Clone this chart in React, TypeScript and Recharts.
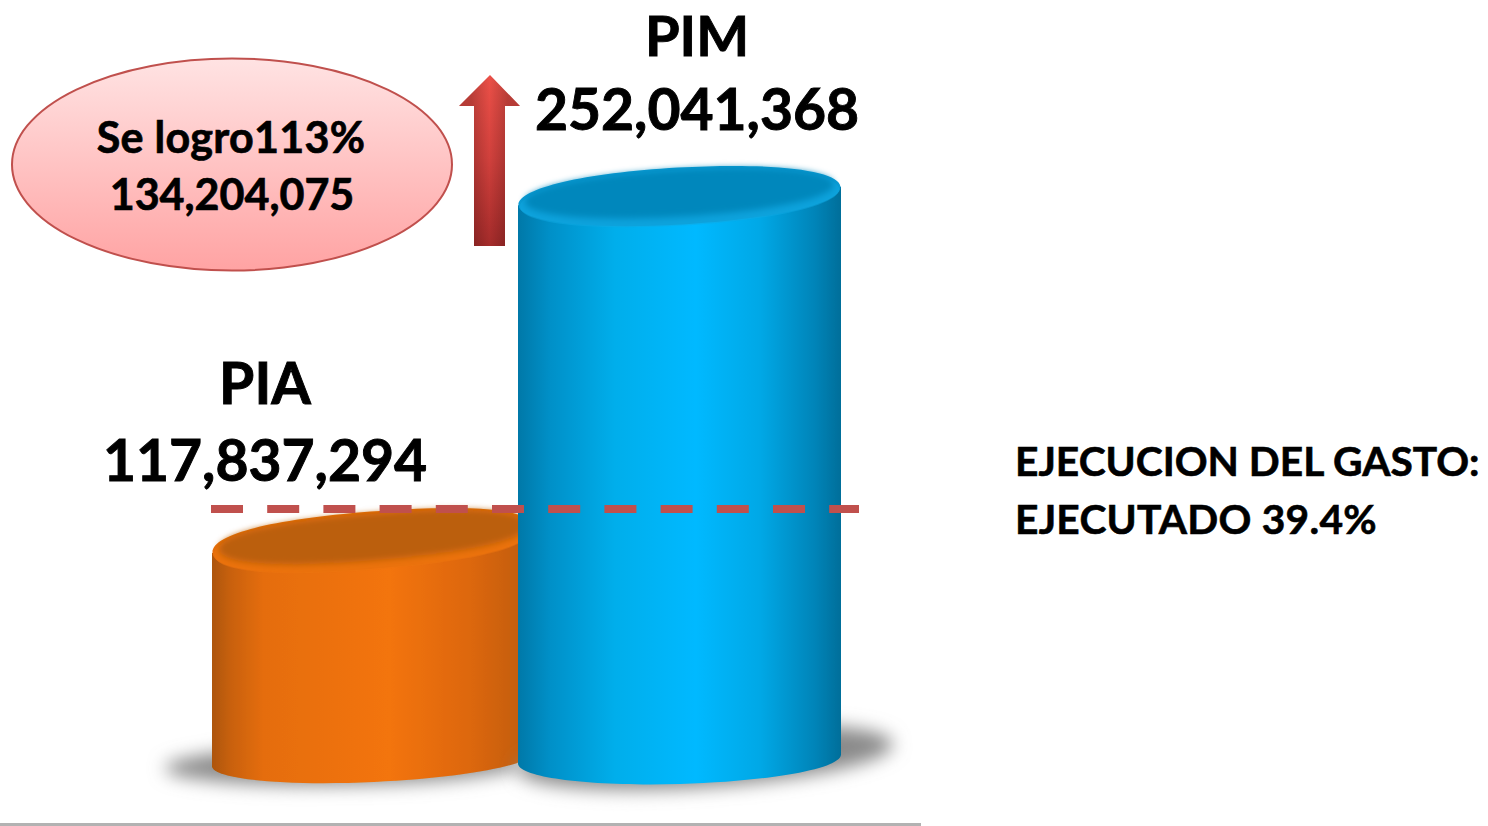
import React from "react";
import { BarChart, Bar, XAxis, YAxis, ReferenceLine, LabelList, Cell } from "recharts";

const categories = ["PIA", "PIM"];
const presupuesto = [117837294, 252041368];
const referencia = 129900000;
const logroLineas = ["Se logro113%", "134,204,075"];
const ejecucionLineas = ["EJECUCION DEL GASTO:", "EJECUTADO 39.4%"];

const data = categories.map((name, i) => ({ name, value: presupuesto[i] }));

const FONT = "Lato, Carlito, sans-serif";
const BOTTOM_KAPPA = 0.56;

type Look = {
  grad: string; cap: string; capInner: string; rim: string; kappa: number;
  inL: number; inR: number; topTilt: number; botTilt: number; ry: number; botRy: number;
  shadow: { dx: number; dy: number; rx: number; ry: number; tilt: number };
  label: { dx: number; dy: number; nameGap: number; nameSize: number };
};
const looks: Record<string, Look> = {
  PIA: {
    grad: "url(#bodyOrange)", cap: "#e86e09", capInner: "#bb5e07", rim: "#ee7610", kappa: 0.64,
    inL: 0, inR: 8, topTilt: -4.6, botTilt: -2.6, ry: 28.5, botRy: 23,
    shadow: { dx: -28, dy: 6, rx: 180, ry: 20, tilt: -1 },
    label: { dx: -104, dy: -59, nameGap: 77, nameSize: 57 },
  },
  PIM: {
    grad: "url(#bodyBlue)", cap: "#0a9bd4", capInner: "#0487bc", rim: "#0fa9e4", kappa: 0.585,
    inL: -8, inR: 1, topTilt: -3.3, botTilt: -1.6, ry: 28.5, botRy: 25,
    shadow: { dx: 26, dy: -2, rx: 188, ry: 30, tilt: -4 },
    label: { dx: 14, dy: -66, nameGap: 74, nameSize: 56 },
  },
};

// rounded ellipse outline, in its own unrotated frame
function capPath(cx: number, cy: number, rx: number, ry: number, kappa: number) {
  const kx = rx * kappa;
  const ky = ry * kappa;
  return [
    `M${cx - rx},${cy}`,
    `C${cx - rx},${cy - ky} ${cx - kx},${cy - ry} ${cx},${cy - ry}`,
    `C${cx + kx},${cy - ry} ${cx + rx},${cy - ky} ${cx + rx},${cy}`,
    `C${cx + rx},${cy + ky} ${cx + kx},${cy + ry} ${cx},${cy + ry}`,
    `C${cx - kx},${cy + ry} ${cx - rx},${cy + ky} ${cx - rx},${cy}`,
    "Z",
  ].join(" ");
}

function Cylinder(props: any) {
  const { x, y, width, height, payload } = props;
  const k = looks[payload.name];
  const left = x + k.inL;
  const right = x + width + k.inR;
  const w = right - left;
  const cx = left + w / 2;
  const base = y + height;
  const rad = (d: number) => (d * Math.PI) / 180;
  const sTop = (w / 2) * Math.tan(rad(k.topTilt));
  const sBot = (w / 2) * Math.tan(rad(k.botTilt));
  const rxTop = Math.hypot(w / 2, sTop);
  const rxBot = Math.hypot(w / 2, sBot);
  const a = rad(k.botTilt);
  const pt = (u: number, v: number) =>
    `${cx + u * Math.cos(a) - v * Math.sin(a)},${base + u * Math.sin(a) + v * Math.cos(a)}`;
  const kx = rxBot * BOTTOM_KAPPA;
  const ky = k.botRy * BOTTOM_KAPPA;
  const d = [
    `M${left},${y - sTop}`,
    `L${pt(-rxBot, 0)}`,
    `C${pt(-rxBot, ky)} ${pt(-kx, k.botRy)} ${pt(0, k.botRy)}`,
    `C${pt(kx, k.botRy)} ${pt(rxBot, ky)} ${pt(rxBot, 0)}`,
    `L${right},${y + sTop}`,
    "Z",
  ].join(" ");
  return (
    <g>
      <ellipse
        cx={cx + k.shadow.dx}
        cy={base + k.shadow.dy}
        rx={k.shadow.rx}
        ry={k.shadow.ry}
        transform={`rotate(${k.shadow.tilt} ${cx + k.shadow.dx} ${base + k.shadow.dy})`}
        fill="#8a8a8a"
        filter="url(#soft8)"
      />
      <path d={d} fill={k.grad} filter="url(#soft05)" />
      <g transform={`rotate(${k.topTilt} ${cx} ${y})`}>
        <path d={capPath(cx, y, rxTop - 0.5, k.ry, k.kappa)} fill={k.cap} />
        <path d={capPath(cx, y + 2, rxTop - 2, k.ry - 1, k.kappa)} fill={k.rim} opacity={0.5} />
        <path d={capPath(cx, y - 3, rxTop - 7, k.ry - 5, k.kappa)} fill={k.capInner} filter="url(#soft3)" />
      </g>
    </g>
  );
}

function NameValue(props: any) {
  const { x, y, width, index } = props;
  const name = categories[index];
  const k = looks[name];
  const cx = x + width / 2 + k.label.dx;
  const yv = y + k.label.dy;
  return (
    <g fontFamily={FONT} fontWeight={700} fontSize={57} fill="#000" stroke="#000" strokeWidth={0.9} textAnchor="middle">
      <text x={cx} y={yv - k.label.nameGap} fontSize={k.label.nameSize}>{name}</text>
      <text x={cx} y={yv}>{presupuesto[index].toLocaleString("en-US")}</text>
    </g>
  );
}

function DashedRef(props: any) {
  const { x1, x2, y1 } = props;
  return (
    <line x1={x1 - 1} x2={x2 + 19} y1={y1} y2={y1} stroke="#c0504d" strokeWidth={8} strokeDasharray="32 24.2" />
  );
}

export default function App() {
  return (
    <div style={{ position: "absolute", left: 0, top: 0, width: 1488, height: 826, background: "#fff" }}>
      <BarChart
        width={1488}
        height={826}
        data={data}
        margin={{ top: 124.4, right: 648, bottom: 67, left: 212 }}
        barCategoryGap={0}
        barGap={0}
      >
        <defs>
          <linearGradient id="bodyOrange" x1="0" x2="1" y1="0" y2="0">
            <stop offset="0" stopColor="#ad5507" />
            <stop offset="0.06" stopColor="#c96108" />
            <stop offset="0.16" stopColor="#e56d09" />
            <stop offset="0.55" stopColor="#f37408" />
            <stop offset="0.8" stopColor="#dd670a" />
            <stop offset="1" stopColor="#bd5c08" />
          </linearGradient>
          <linearGradient id="bodyBlue" x1="0" x2="1" y1="0" y2="0">
            <stop offset="0" stopColor="#0478a8" />
            <stop offset="0.1" stopColor="#0190c8" />
            <stop offset="0.3" stopColor="#00aeeb" />
            <stop offset="0.55" stopColor="#00b9ff" />
            <stop offset="0.75" stopColor="#02a8e6" />
            <stop offset="0.92" stopColor="#0184b8" />
            <stop offset="1" stopColor="#036e9a" />
          </linearGradient>
          <linearGradient id="pink" x1="0" x2="0" y1="0" y2="1">
            <stop offset="0" stopColor="#ffe3e3" />
            <stop offset="1" stopColor="#ffa3a3" />
          </linearGradient>
          <linearGradient id="arrowV" x1="0" x2="0" y1="0" y2="1">
            <stop offset="0" stopColor="#ec5048" />
            <stop offset="0.5" stopColor="#d0403c" />
            <stop offset="1" stopColor="#a42b2a" />
          </linearGradient>
          <linearGradient id="arrowH" x1="0" x2="1" y1="0" y2="0">
            <stop offset="0.2" stopColor="#000" stopOpacity="0.2" />
            <stop offset="0.5" stopColor="#000" stopOpacity="0" />
            <stop offset="0.8" stopColor="#000" stopOpacity="0.2" />
          </linearGradient>
          <filter id="soft8" x="-30%" y="-100%" width="160%" height="300%">
            <feGaussianBlur stdDeviation="9" />
          </filter>
          <filter id="soft3" x="-10%" y="-30%" width="120%" height="160%">
            <feGaussianBlur stdDeviation="3" />
          </filter>
          <filter id="soft05" x="-2%" y="-2%" width="104%" height="104%">
            <feGaussianBlur stdDeviation="0.6" />
          </filter>
        </defs>
        <XAxis dataKey="name" hide />
        <YAxis hide domain={[32400000, 280000000]} />
        <Bar dataKey="value" isAnimationActive={false} shape={<Cylinder />}>
          {data.map((d) => (
            <Cell key={d.name} />
          ))}
          <LabelList dataKey="value" content={<NameValue />} />
        </Bar>
        <ReferenceLine y={referencia} ifOverflow="visible" shape={<DashedRef />} />

        <ellipse cx={232} cy={164.5} rx={220} ry={106} fill="url(#pink)" stroke="#c0504d" strokeWidth={2} />
        <g fontFamily={FONT} fontWeight={700} fontSize={43} fill="#000" stroke="#000" strokeWidth={0.7} textAnchor="middle">
          <text x={231} y={153} letterSpacing={0.3}>{logroLineas[0]}</text>
          <text x={232} y={210}>{logroLineas[1]}</text>
        </g>

        <path d="M490,75 L520,106 L505,106 L505,246 L474,246 L474,106 L459,106 Z" fill="url(#arrowV)" />
        <path d="M490,75 L520,106 L505,106 L505,246 L474,246 L474,106 L459,106 Z" fill="url(#arrowH)" />

        <g fontFamily={FONT} fontWeight={700} fontSize={40.7} fill="#000" stroke="#000" strokeWidth={0.6}>
          <text x={1015} y={476}>{ejecucionLineas[0]}</text>
          <text x={1015} y={534} letterSpacing={0.25}>{ejecucionLineas[1]}</text>
        </g>

        <rect x={0} y={823} width={921} height={3} fill="#b2b2b2" />
      </BarChart>
    </div>
  );
}
